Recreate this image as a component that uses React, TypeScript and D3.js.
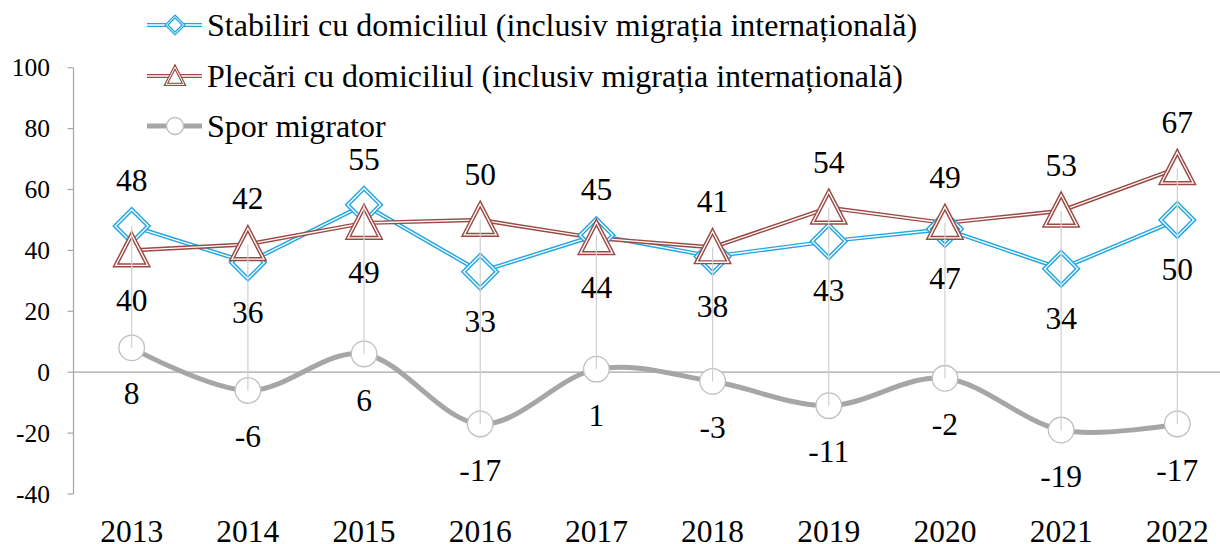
import { useEffect, useRef } from "react";
import * as d3 from "d3";

const YEARS = ["2013", "2014", "2015", "2016", "2017", "2018", "2019", "2020", "2021", "2022"];
const STABILIRI = [48, 36, 55, 33, 45, 38, 43, 47, 34, 50];
const PLECARI = [40, 42, 49, 50, 44, 41, 54, 49, 53, 67];
const SPOR = [8, -6, 6, -17, 1, -3, -11, -2, -19, -17];
// label placement per point: true = above, false = below
const STAB_ABOVE = [true, false, true, false, true, false, false, false, false, false];
const PLEC_ABOVE = [false, true, false, true, false, true, true, true, true, true];
const Y_TICKS = [-40, -20, 0, 20, 40, 60, 80, 100];

const LEGEND = [
  "Stabiliri cu domiciliul (inclusiv migrația internațională)",
  "Plecări cu domiciliul (inclusiv migrația internațională)",
  "Spor migrator",
];

const BLUE = "#22a6e2";
const BROWN = "#9b4a43";
const GRAY = "#a6a6a6";
const FONT = "Liberation Serif, Tinos, Times New Roman, DejaVu Serif, serif";

const W = 1220;
const H = 544;

export default function App() {
  const svgRef = useRef<SVGSVGElement | null>(null);

  useEffect(() => {
    const svg = d3.select(svgRef.current);
    svg.selectAll("*").remove();

    const x = d3.scalePoint<string>().domain(YEARS).range([73.6, 1235.4]).padding(0.5);
    const y = d3.scaleLinear().domain([-40, 100]).range([494, 67.7]);
    const axisX = 73.5;

    const g = svg.append("g").style("font-family", FONT);

    // y axis
    g.append("line")
      .attr("x1", axisX).attr("x2", axisX)
      .attr("y1", y(100)).attr("y2", y(-40))
      .attr("stroke", GRAY).attr("stroke-width", 1.2);
    g.selectAll("line.tick")
      .data(Y_TICKS)
      .join("line")
      .attr("class", "tick")
      .attr("x1", axisX - 6).attr("x2", axisX)
      .attr("y1", (d) => y(d)).attr("y2", (d) => y(d))
      .attr("stroke", GRAY).attr("stroke-width", 1.2);
    g.selectAll("text.ytl")
      .data(Y_TICKS)
      .join("text")
      .attr("class", "ytl")
      .attr("x", 50)
      .attr("y", (d) => y(d) + 8.6)
      .attr("text-anchor", "end")
      .attr("font-size", 25.5)
      .text((d) => d);

    // zero line
    g.append("line")
      .attr("x1", axisX).attr("x2", 1235)
      .attr("y1", y(0)).attr("y2", y(0))
      .attr("stroke", GRAY).attr("stroke-width", 1.2);

    // year labels
    g.selectAll("text.xtl")
      .data(YEARS)
      .join("text")
      .attr("class", "xtl")
      .attr("x", (d) => x(d)!)
      .attr("y", 542)
      .attr("text-anchor", "middle")
      .attr("font-size", 31.5)
      .text((d) => d);

    const px = (i: number) => x(YEARS[i])!;

    // spor migrator: smooth gray line
    const smooth = d3.line<number>()
      .x((_, i) => px(i))
      .y((d) => y(d))
      .curve(d3.curveCatmullRom.alpha(0));
    g.append("path")
      .attr("d", smooth(SPOR))
      .attr("fill", "none")
      .attr("stroke", GRAY)
      .attr("stroke-width", 5);

    const straight = d3.line<number>().x((_, i) => px(i)).y((d) => y(d));

    const doubleLine = (vals: number[], color: string) => {
      g.append("path").attr("d", straight(vals)).attr("fill", "none")
        .attr("stroke", color).attr("stroke-width", 4.2);
      g.append("path").attr("d", straight(vals)).attr("fill", "none")
        .attr("stroke", "#fff").attr("stroke-width", 1.3);
    };
    doubleLine(STABILIRI, BLUE);
    doubleLine(PLECARI, BROWN);

    const diamond = (s: number) => `M0,${-s}L${s},0L0,${s}L${-s},0Z`;
    const triangle = (s: number) => `M0,${-s}L${s},${s * 0.93}L${-s},${s * 0.93}Z`;

    const doubleMarker = (parent: any, path: string, cx: number, cy: number, color: string, wide = 4.2, thin = 1.3) => {
      const m = parent.append("g").attr("transform", `translate(${cx},${cy})`);
      m.append("path").attr("d", path).attr("fill", "#fff")
        .attr("stroke", color).attr("stroke-width", wide).attr("stroke-linejoin", "miter");
      m.append("path").attr("d", path).attr("fill", "none")
        .attr("stroke", "#fff").attr("stroke-width", thin).attr("stroke-linejoin", "miter");
    };

    STABILIRI.forEach((v, i) => doubleMarker(g, diamond(16.5), px(i), y(v), BLUE));
    PLECARI.forEach((v, i) => doubleMarker(g, triangle(16), px(i), y(v), BROWN));

    g.selectAll("circle.spor")
      .data(SPOR)
      .join("circle")
      .attr("class", "spor")
      .attr("cx", (_, i) => px(i))
      .attr("cy", (d) => y(d))
      .attr("r", 12.8)
      .attr("fill", "#fff")
      .attr("stroke", "#bfbfbf")
      .attr("stroke-width", 1.3);

    // high-low lines
    g.selectAll("line.hl")
      .data(YEARS)
      .join("line")
      .attr("class", "hl")
      .attr("x1", (d) => x(d)!).attr("x2", (d) => x(d)!)
      .attr("y1", (_, i) => y(Math.max(STABILIRI[i], PLECARI[i], SPOR[i])))
      .attr("y2", (_, i) => y(Math.min(STABILIRI[i], PLECARI[i], SPOR[i])))
      .attr("stroke", "#cfcfcf")
      .attr("stroke-width", 1.2);

    // data labels
    const labels = (vals: number[], above: boolean[], upOff: number, downOff: number) => {
      g.append("g")
        .selectAll("text")
        .data(vals)
        .join("text")
        .attr("x", (_, i) => px(i))
        .attr("y", (d, i) => y(d) + (above[i] ? upOff : downOff) + 10.6)
        .attr("text-anchor", "middle")
        .attr("font-size", 31.5)
        .text((d) => d);
    };
    labels(STABILIRI, STAB_ABOVE, -45.5, 49.5);
    labels(PLECARI, PLEC_ABOVE, -45.5, 49.5);
    labels(SPOR, SPOR.map(() => false), -45, 46);

    // legend
    const legendRows = [25, 76, 126];
    LEGEND.forEach((name, i) => {
      const ly = legendRows[i];
      const row = g.append("g");
      if (i < 2) {
        const color = i === 0 ? BLUE : BROWN;
        row.append("line").attr("x1", 147).attr("x2", 202).attr("y1", ly).attr("y2", ly)
          .attr("stroke", color).attr("stroke-width", 4.2);
        row.append("line").attr("x1", 147).attr("x2", 202).attr("y1", ly).attr("y2", ly)
          .attr("stroke", "#fff").attr("stroke-width", 1.3);
        doubleMarker(row, i === 0 ? diamond(8.5) : triangle(9), 175, ly, color, 3.2, 1);
      } else {
        row.append("line").attr("x1", 147).attr("x2", 202).attr("y1", ly).attr("y2", ly)
          .attr("stroke", GRAY).attr("stroke-width", 5);
        row.append("circle").attr("cx", 175).attr("cy", ly).attr("r", 8.5)
          .attr("fill", "#fff").attr("stroke", "#bfbfbf").attr("stroke-width", 1.3);
      }
      row.append("text")
        .attr("x", 207)
        .attr("y", ly + 11)
        .attr("font-size", 32)
        .text(name);
    });
  }, []);

  return (
    <svg
      ref={svgRef}
      width={W}
      height={H}
      style={{ position: "absolute", left: 0, top: 0, background: "#fff" }}
    />
  );
}
